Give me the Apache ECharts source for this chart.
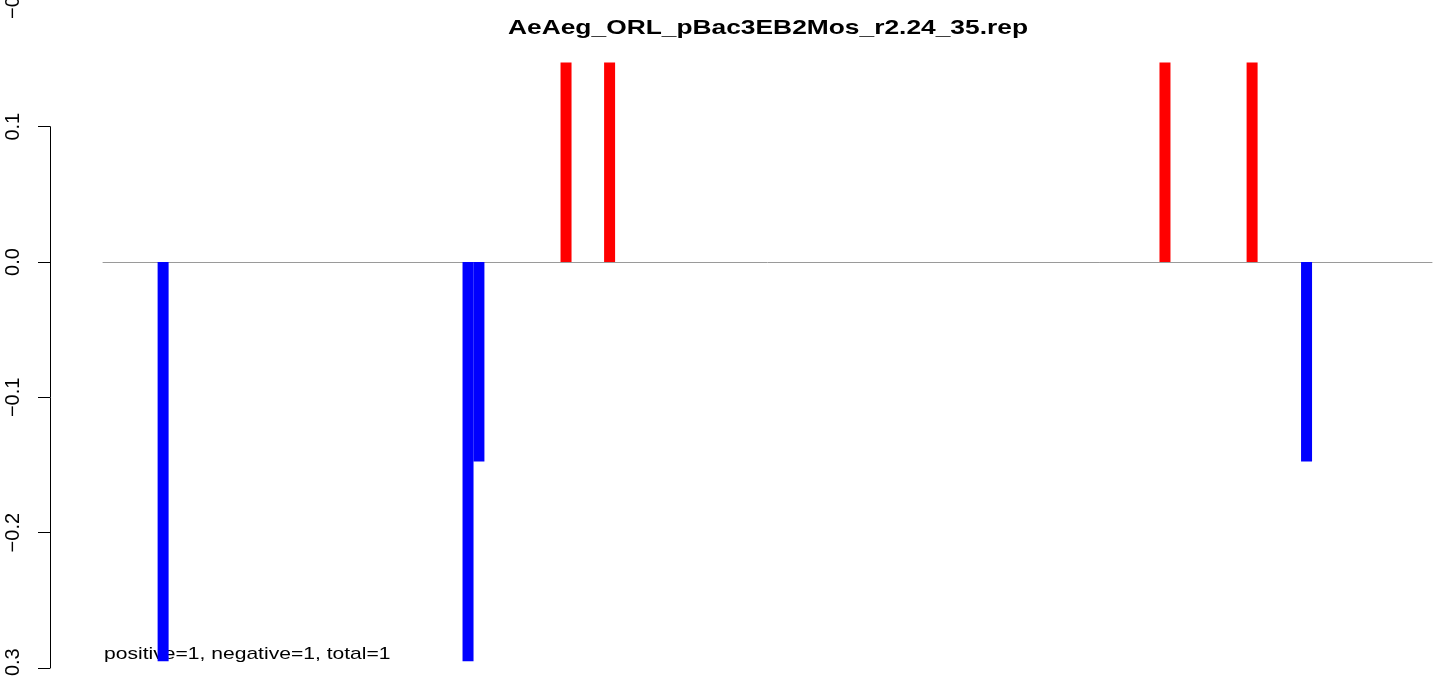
<!DOCTYPE html>
<html>
<head>
<meta charset="utf-8">
<script src="https://cdn.jsdelivr.net/npm/echarts@6/dist/echarts.min.js"></script>
<style>
html,body{margin:0;padding:0;background:#fff;}
#chart{width:1439px;height:676px;}
</style>
</head>
<body>
<div id="chart"></div>
<script>
// ---- data ----
var titleText = 'AeAeg_ORL_pBac3EB2Mos_r2.24_35.rep';
var noteText = 'positive=1, negative=1, total=1';
var positions = [2, 30, 31, 39, 43, 94, 102, 107];
var values = [-0.295, -0.295, -0.1475, 0.1475, 0.1475, 0.1475, 0.1475, -0.1475];
var yTicks = [-0.3, -0.2, -0.1, 0.0, 0.1];
var yTickLabels = ['\u22120.3', '\u22120.2', '\u22120.1', '0.0', '0.1'];
var strayLabel = '\u22120.3';

var FONT = '"Liberation Sans", Arial, Helvetica, sans-serif';
var chart = echarts.init(document.getElementById('chart'), null, {renderer: 'canvas'});

var barData = positions.map(function (p, i) { return [p, values[i]]; });

var option = {
  animation: false,
  backgroundColor: '#ffffff',
  grid: [
    {left: 103, right: 7, top: 59, bottom: 8, containLabel: false, outerBoundsMode: 'none'},
    {left: 50, width: 10, top: 126.7, bottom: 8, containLabel: false, outerBoundsMode: 'none'}
  ],
  xAxis: [
    {
      gridIndex: 0, type: 'value', min: -3.52, max: 118.52,
      axisLine: {show: true, onZero: true, lineStyle: {color: '#9a9a9a', width: 1}},
      axisTick: {show: false}, axisLabel: {show: false}, splitLine: {show: false}
    },
    {
      gridIndex: 1, type: 'value', min: 0, max: 1, show: false
    }
  ],
  yAxis: [
    {
      gridIndex: 0, type: 'value', min: -0.3, max: 0.15, show: false,
      splitLine: {show: false}
    },
    {
      gridIndex: 1, type: 'value', min: yTicks[0], max: yTicks[yTicks.length - 1], interval: 0.1,
      axisLine: {show: true, lineStyle: {color: '#000', width: 1}},
      axisTick: {show: true, inside: false, length: 12, lineStyle: {color: '#000', width: 1}},
      splitLine: {show: false},
      axisLabel: {
        show: true, rotate: 90, margin: 27, fontSize: 20, color: '#000', fontFamily: FONT,
        hideOverlap: false,
        formatter: function (v) {
          for (var i = 0; i < yTicks.length; i++) {
            if (Math.abs(yTicks[i] - v) < 1e-9) return yTickLabels[i];
          }
          return '';
        }
      }
    }
  ],
  series: [
    {
      type: 'bar', xAxisIndex: 0, yAxisIndex: 0,
      data: barData, barWidth: 11,
      itemStyle: {
        color: function (p) { return p.value[1] >= 0 ? '#ff0000' : '#0000ff'; }
      }
    }
  ],
  graphic: [
    {
      type: 'text', x: 768, y: 28, scaleX: 1.255, scaleY: 1,
      style: {text: titleText, x: 0, y: 0, align: 'center', verticalAlign: 'middle',
        font: 'bold 21px ' + FONT, fill: '#000'}
    },
    {
      type: 'text', x: 104, y: 654, scaleX: 1.24, scaleY: 1,
      style: {text: noteText, x: 0, y: 0, align: 'left', verticalAlign: 'middle',
        font: '17px ' + FONT, fill: '#000'}
    },
    {
      type: 'text', x: 13, y: 19, rotation: Math.PI / 2,
      style: {text: strayLabel, x: 0, y: 0, align: 'left', verticalAlign: 'middle',
        font: '20px ' + FONT, fill: '#000'}
    }
  ]
};
chart.setOption(option);
</script>
</body>
</html>
